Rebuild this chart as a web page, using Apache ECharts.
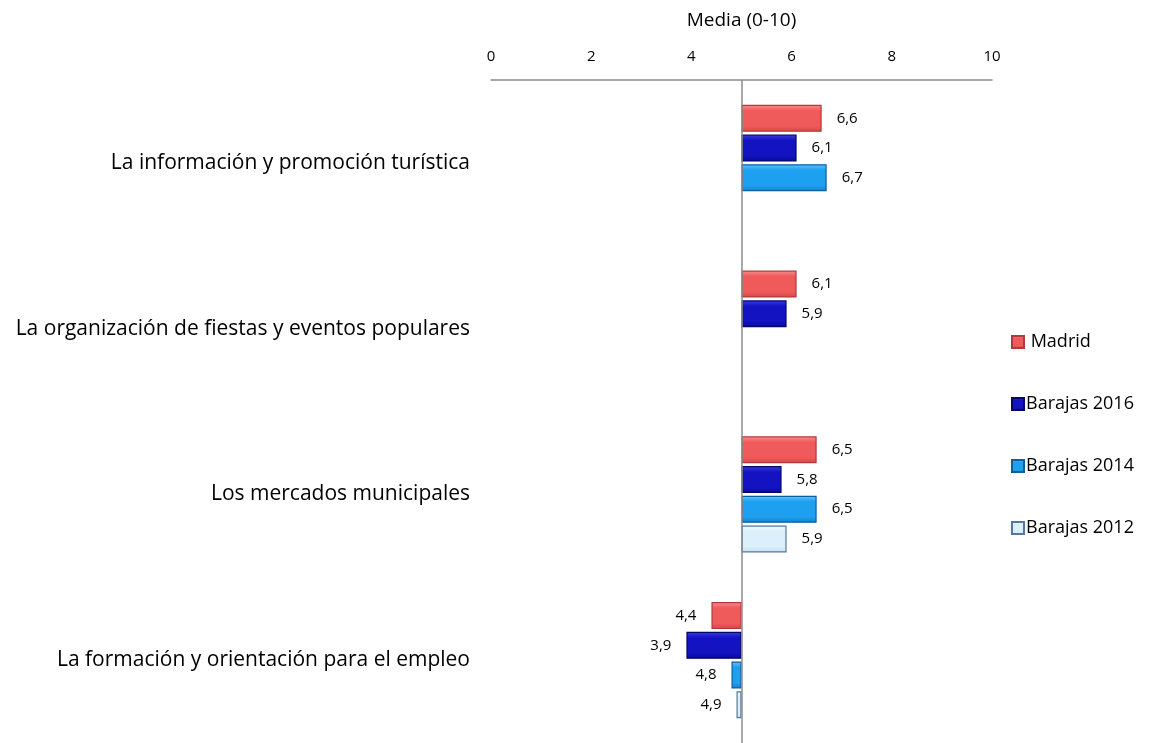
<!DOCTYPE html>
<html>
<head>
<meta charset="utf-8">
<script src="https://cdn.jsdelivr.net/npm/echarts@6/dist/echarts.min.js"></script>
<style>
  html, body { margin: 0; padding: 0; background: #fff; }
  #chart { width: 1152px; height: 743px; }
</style>
</head>
<body>
<div id="chart"></div>
<script>
// categorías (de arriba abajo)
const categories = [
  'La información y promoción turística',
  'La organización de fiestas y eventos populares',
  'Los mercados municipales',
  'La formación y orientación para el empleo'
]
const seriesNames = ['Madrid', 'Barajas 2016', 'Barajas 2014', 'Barajas 2012']
// medias por serie (null = sin dato)
const madrid = [6.6, 6.1, 6.5, 4.4]
const barajas2016 = [6.1, 5.9, 5.8, 3.9]
const barajas2014 = [6.7, null, 6.5, 4.8]
const barajas2012 = [null, null, 5.9, 4.9]
const axisTicks = [0, 2, 4, 6, 8, 10]
const baseLine = 5

const allValues = [madrid, barajas2016, barajas2014, barajas2012]
const FONT = 'Open Sans'

// colores: [claro, base, oscuro, borde]
const palette = [
  ['#fb8f8f', '#ef5a5a', '#d84444', '#b03a3a'],
  ['#3c3ce6', '#1313c2', '#08089a', '#05056a'],
  ['#62c6ff', '#1ea0f0', '#1283cf', '#0d5f9c'],
  ['#f6fcff', '#dcf0fb', '#c4e2f5', '#56779f']
]

const fmt = v => v.toFixed(1).replace('.', ',')

const series = []
allValues.forEach((vals, i) => {
  const stack = 's' + i
  // parte invisible: desde 0 hasta min(v, 5)
  series.push({
    type: 'bar',
    stack: stack,
    name: '_base' + i,
    barWidth: 27,
    barGap: '10%',
    silent: true,
    itemStyle: { color: 'transparent' },
    data: vals.map(v => v == null ? '-' : Math.min(v, baseLine))
  })
  const c = palette[i]
  series.push({
    type: 'bar',
    stack: stack,
    name: seriesNames[i],
    barWidth: 27,
    barGap: '10%',
    itemStyle: {
      color: new echarts.graphic.LinearGradient(0, 0, 0, 1, [
        { offset: 0, color: c[0] },
        { offset: 0.22, color: c[1] },
        { offset: 0.78, color: c[1] },
        { offset: 1, color: c[2] }
      ]),
      borderColor: c[3],
      borderWidth: 1.2
    },
    label: {
      show: true,
      distance: 15,
      color: '#000',
      fontFamily: FONT,
      fontSize: 15,
      formatter: p => fmt(vals[p.dataIndex])
    },
    data: vals.map(v => v == null ? '-' : {
      value: Math.abs(v - baseLine),
      label: { position: v < baseLine ? 'left' : 'right' }
    }),
    markLine: i === 0 ? {
      silent: true,
      symbol: 'none',
      label: { show: false },
      lineStyle: { color: '#8c8c8c', width: 1.5, type: 'solid' },
      data: [{ xAxis: baseLine }]
    } : undefined
  })
})

const chart = echarts.init(document.getElementById('chart'))
chart.setOption({
  animation: false,
  textStyle: { fontFamily: FONT },
  grid: { left: 491, right: 160, top: 80, bottom: 0 },
  legend: {
    data: seriesNames.map(n => ({ name: n, icon: 'rect' })),
    orient: 'vertical',
    left: 1006,
    top: 328,
    itemWidth: 12,
    itemHeight: 12,
    itemGap: 44,
    textStyle: { fontFamily: FONT, fontSize: 18, color: '#000', padding: [0, 0, 0, -3] },
    formatter: n => n === 'Madrid' ? ' Madrid' : n
  },
  xAxis: {
    type: 'value',
    position: 'top',
    min: axisTicks[0],
    max: axisTicks[axisTicks.length - 1],
    interval: 2,
    name: 'Media (0-10)',
    nameLocation: 'middle',
    nameGap: 50,
    nameTextStyle: { fontFamily: FONT, fontSize: 19, color: '#000' },
    axisLine: { show: true, lineStyle: { color: '#8c8c8c', width: 1.5 } },
    axisTick: { show: false },
    splitLine: { show: false },
    axisLabel: { margin: 16, fontSize: 15, color: '#000', fontFamily: FONT }
  },
  yAxis: {
    type: 'category',
    inverse: true,
    data: categories,
    axisLine: { show: false },
    axisTick: { show: false },
    axisLabel: { margin: 21, fontSize: 21, color: '#000', fontFamily: FONT }
  },
  series: series
})
</script>
</body>
</html>
